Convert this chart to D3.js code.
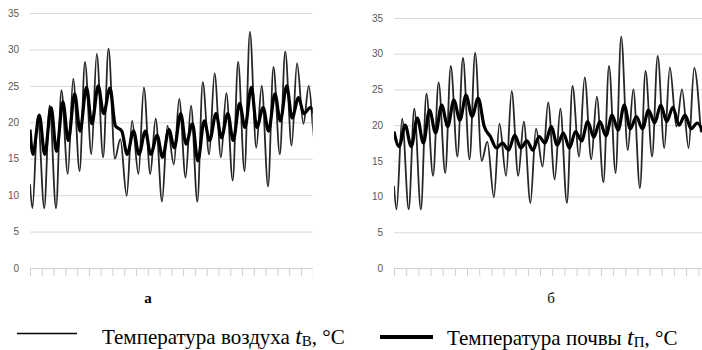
<!DOCTYPE html>
<html>
<head>
<meta charset="utf-8">
<script src="https://cdn.jsdelivr.net/npm/d3@7"></script>
<style>
  body { margin: 0; background: #fff; }
  svg { display: block; }
  .tick text { font-family: "Liberation Sans", Arial, sans-serif; font-size: 10px; fill: #595959; }
</style>
</head>
<body>
<svg id="chart" width="702" height="350"></svg>
<script>
// days of observation (category axis): panel а shows 24 days, panel б is cut by the picture edge
const daysA = 24;
const daysB = 26;
const yTicks = [0, 5, 10, 15, 20, 25, 30, 35];

// air temperature, night minimum / day maximum per day, °C (same series on both panels)
const airStart = 11.5;
const airMin = [8.2, 8.2, 8.2, 12.9, 13.3, 15.6, 15.2, 15.0, 9.9, 12.9, 12.9, 9.1, 14.2, 12.4, 9.1, 15.6, 15.2, 12.0, 13.3, 16.5, 11.2, 15.6, 16.8, 19.8, 16.8, 19.0];
const airMax = [20.9, 22.3, 24.4, 26.0, 28.3, 29.4, 30.1, 17.7, 20.2, 24.8, 20.5, 19.5, 23.2, 22.3, 25.5, 26.7, 24.0, 28.3, 32.4, 25.0, 27.6, 29.7, 28.1, 25.0, 28.0];

// soil temperature, panel а
const soilStartA = 19.0;
const soilMinA = [15.6, 15.6, 16.0, 17.5, 18.8, 19.8, 21.2, 19.5, 15.6, 15.6, 15.6, 15.2, 16.5, 17.0, 14.7, 17.5, 17.9, 17.5, 19.3, 19.3, 18.8, 20.2, 20.6, 21.2, 20.6];
const soilMaxA = [21.0, 22.0, 22.8, 23.9, 24.8, 25.0, 24.7, 18.8, 18.8, 18.8, 18.2, 19.0, 21.2, 19.8, 20.2, 21.2, 21.2, 22.6, 24.8, 22.0, 23.9, 25.0, 23.4, 22.0];

// soil temperature, panel б
const soilStartB = 19.1;
const soilMinB = [17.0, 17.0, 17.5, 18.9, 19.8, 20.7, 21.2, 19.8, 16.8, 16.5, 16.8, 16.5, 17.5, 17.2, 16.8, 17.8, 18.3, 18.5, 19.3, 19.5, 19.5, 20.3, 20.5, 20.0, 19.5, 19.0];
const soilMaxB = [20.0, 21.0, 22.1, 22.8, 23.5, 24.2, 23.8, 18.4, 17.5, 18.6, 17.8, 18.4, 19.8, 18.9, 19.1, 20.5, 20.5, 21.4, 22.8, 21.2, 22.1, 22.8, 22.5, 21.4, 20.3];

// hour of the daily extremes
const airHours = [5, 16];
const soilHoursA = [6, 19];
const soilHoursB = [10, 22];

const svg = d3.select("#chart");

function toPoints(start, mins, maxs, hours) {
  const pts = [[0, start]];
  mins.forEach((m, i) => {
    pts.push([i + hours[0] / 24, m]);
    if (maxs[i] !== undefined) pts.push([i + hours[1] / 24, maxs[i]]);
  });
  return pts;
}

function drawPanel(id, p) {
  const x = d3.scaleLinear().domain([0, p.days]).range([p.x0, p.x0 + p.days * p.step]);
  const y = d3.scaleLinear().domain([0, 35]).range([268, p.yTop]);
  const x1 = Math.min(702, p.x0 + p.days * p.step);

  svg.append("clipPath").attr("id", id)
    .append("rect")
    .attr("x", p.x0).attr("y", 0)
    .attr("width", x1 - p.x0).attr("height", 280);

  // grid + y labels
  const gy = svg.append("g")
    .attr("transform", "translate(" + p.x0 + ",0)")
    .call(d3.axisLeft(y).tickValues(yTicks).tickSize(-(x1 - p.x0)).tickPadding(11));
  gy.select(".domain").remove();
  gy.selectAll(".tick line").attr("stroke", "#d9d9d9").attr("stroke-width", 1);

  // x axis with plain tick marks
  const gx = svg.append("g")
    .attr("transform", "translate(0,268)")
    .attr("clip-path", "url(#" + id + ")")
    .call(d3.axisBottom(x).tickValues(d3.range(0, p.days + 1)).tickFormat("").tickSize(8).tickSizeOuter(0));
  gx.select(".domain").attr("stroke", "#d0d0d0");
  gx.selectAll(".tick line").attr("stroke", "#d0d0d0");

  const line = d3.line()
    .x(d => x(d[0]))
    .y(d => y(d[1]))
    .curve(d3.curveMonotoneX);

  const plot = svg.append("g").attr("clip-path", "url(#" + id + ")");

  // air temperature
  plot.append("path")
    .datum(toPoints(airStart, airMin, airMax, airHours))
    .attr("fill", "none")
    .attr("stroke", "#262626")
    .attr("stroke-width", 1.8)
    .attr("d", line);

  // soil temperature
  plot.append("path")
    .datum(toPoints(p.soilStart, p.soilMin, p.soilMax, p.soilHours))
    .attr("fill", "none")
    .attr("stroke", "#000")
    .attr("stroke-width", 3.2)
    .attr("stroke-linejoin", "round")
    .attr("d", line);

  svg.append("text")
    .attr("x", p.labelX)
    .attr("y", 303)
    .attr("text-anchor", "middle")
    .attr("font-family", "'Liberation Serif', 'Times New Roman', serif")
    .attr("font-size", 15)
    .attr("font-weight", p.bold ? "bold" : "normal")
    .text(p.label);
}

drawPanel("clipA", {
  x0: 30, step: 11.78, days: daysA, yTop: 13, labelX: 148, label: "а", bold: true,
  soilStart: soilStartA, soilMin: soilMinA, soilMax: soilMaxA, soilHours: soilHoursA
});
drawPanel("clipB", {
  x0: 394, step: 12.17, days: daysB, yTop: 18, labelX: 551, label: "б", bold: false,
  soilStart: soilStartB, soilMin: soilMinB, soilMax: soilMaxB, soilHours: soilHoursB
});

// legend
function legendItem(lx0, lx1, ly, width, tx, ty, name, idx) {
  svg.append("line")
    .attr("x1", lx0).attr("x2", lx1)
    .attr("y1", ly).attr("y2", ly)
    .attr("stroke", "#000")
    .attr("stroke-width", width);
  const t = svg.append("text")
    .attr("x", tx).attr("y", ty)
    .attr("font-family", "'Liberation Serif', 'Times New Roman', serif")
    .attr("font-size", 21)
    .attr("fill", "#000");
  t.append("tspan").text(name + " ");
  t.append("tspan").attr("font-style", "italic").attr("font-size", 24).text("t");
  t.append("tspan").attr("font-size", 15).attr("dy", 2).text(idx);
  t.append("tspan").attr("dy", -2).text(", °C");
}

legendItem(17, 77, 333.5, 1.3, 102, 344, "Температура воздуха", "В");
legendItem(380, 433, 337, 4, 447, 345, "Температура почвы", "П");
</script>
</body>
</html>
